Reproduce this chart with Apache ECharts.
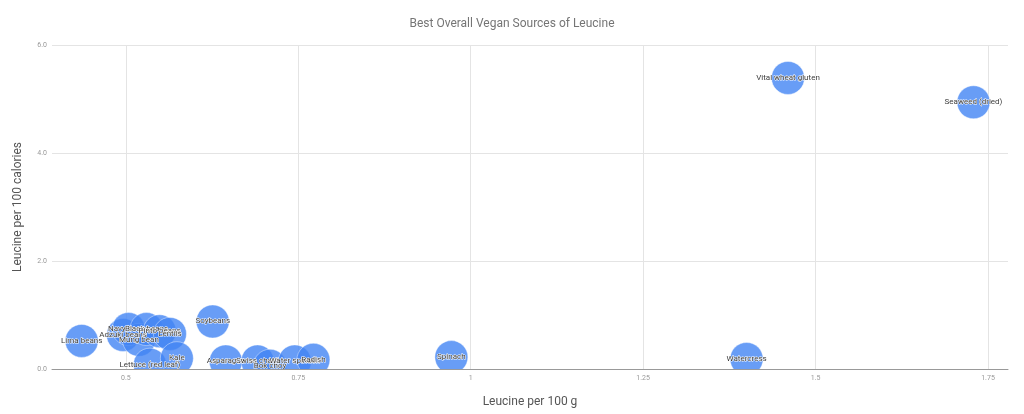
<!DOCTYPE html>
<html lang="en">

<head>
    <meta charset="UTF-8">
    <title>leucine</title>
    <style>
        html,
        body,
        #chart {
            margin: 0;
            padding: 0;
            overflow: hidden;
            width: 100%;
            height: 100%;
            background: #fff;
        }
    </style>
</head>

<body>
    <div id="chart"></div>
    <script src="https://cdn.jsdelivr.net/npm/echarts@6/dist/echarts.min.js"></script>
    <script>
        var foods = ["Lima beans", "Adzuki beans", "Navy beans", "Mung bean", "Black beans", "Pinto beans", "Lentils",
            "Lettuce (red leaf)", "Kale", "Soybeans", "Asparagus", "Swiss chard", "Bok choy", "Water spinach", "Radish",
            "Spinach", "Watercress", "Vital wheat gluten", "Seaweed (dried)"];
        var per100g = [0.436, 0.496, 0.504, 0.519, 0.530, 0.549, 0.564,
            0.535, 0.574, 0.626, 0.645, 0.691, 0.709, 0.745, 0.772,
            0.972, 1.40, 1.46, 1.729];
        var per100cal = [0.52, 0.63, 0.74, 0.54, 0.74, 0.70, 0.65,
            0.08, 0.20, 0.88, 0.14, 0.14, 0.06, 0.14, 0.17,
            0.22, 0.185, 5.39, 4.94];
        var xTicks = [0.5, 0.75, 1, 1.25, 1.5, 1.75];

        var points = [];
        for (var i = 0; i < foods.length; i++) {
            points.push({ name: foods[i], value: [per100g[i], per100cal[i]] });
        }

        // bubbles are cut off at the plot edges, so draw them as a clipped custom series
        function drawBubble(params, api) {
            var pt = api.coord([api.value(0), api.value(1)]);
            return {
                type: 'circle',
                shape: { cx: pt[0], cy: pt[1], r: 16.5 },
                style: { fill: '#4285f4', opacity: 0.8, stroke: '#fff', lineWidth: 0.5 },
                textContent: {
                    style: {
                        text: foods[params.dataIndex],
                        fontFamily: 'Roboto',
                        fontSize: 8,
                        fill: '#3c3c3c',
                        stroke: '#fff',
                        lineWidth: 1
                    }
                },
                textConfig: { position: 'inside' }
            };
        }

        var chart = echarts.init(document.getElementById('chart'));
        chart.setOption({
            textStyle: { fontFamily: 'Roboto' },
            title: {
                text: 'Best Overall Vegan Sources of Leucine',
                left: 'center',
                top: 13,
                textStyle: { fontSize: 12, fontWeight: 'normal', color: '#757575' }
            },
            grid: { left: 52, right: 16, top: 45, bottom: 45 },
            xAxis: {
                type: 'value',
                min: 0.393,
                max: 1.779,
                name: 'Leucine per 100 g',
                nameLocation: 'middle',
                nameGap: 27,
                nameTextStyle: { fontSize: 12, color: '#555' },
                axisLine: { show: true, lineStyle: { color: '#999' } },
                axisTick: { show: false, customValues: xTicks },
                axisLabel: { customValues: xTicks, fontSize: 7, color: '#999', margin: 6 },
                splitLine: { show: true, lineStyle: { color: '#e4e4e4' } }
            },
            yAxis: {
                type: 'value',
                min: 0,
                max: 6,
                interval: 2,
                name: 'Leucine per 100 calories',
                nameLocation: 'middle',
                nameGap: 28,
                nameTextStyle: { fontSize: 12, color: '#555' },
                axisLine: { show: false },
                axisTick: { show: false },
                axisLabel: { fontSize: 7, color: '#999', margin: 5, formatter: function (v) { return v.toFixed(1); } },
                splitLine: { lineStyle: { color: '#e4e4e4' } }
            },
            series: [{
                type: 'custom',
                clip: true,
                renderItem: drawBubble,
                encode: { x: 0, y: 1 },
                silent: true,
                data: points
            }]
        });
    </script>
</body>

</html>
